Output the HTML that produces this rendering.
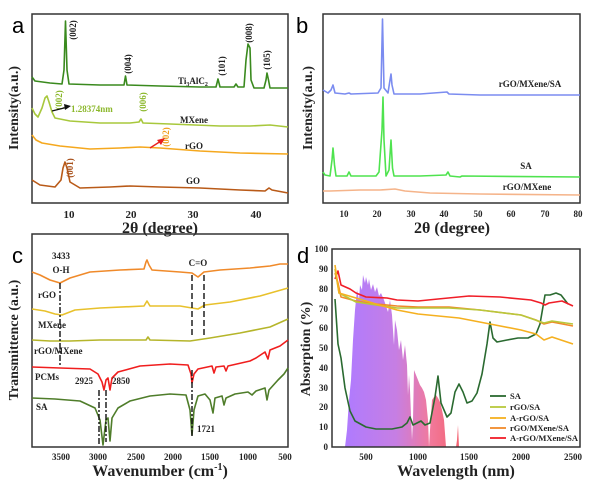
<!DOCTYPE html>
<html><head><meta charset="utf-8"><style>
html,body{margin:0;padding:0;background:#fff}
svg{display:block}
text{font-family:"Liberation Serif",serif;font-weight:bold;fill:#222}
.t{font-size:11px}
.s{font-size:9px}
.ttl{font-size:16px}
.yl{font-size:14px}
.L{font-family:"Liberation Sans",sans-serif;font-weight:normal;font-size:22px;fill:#000}
.fr{fill:none;stroke:#333;stroke-width:1.5}
polyline{fill:none;stroke-width:1.6;stroke-linejoin:round}
</style></head><body>
<svg width="600" height="489" viewBox="0 0 600 489" xmlns="http://www.w3.org/2000/svg">
<defs>
<linearGradient id="sg" x1="0" x2="1" y1="0" y2="0">
<stop offset="0" stop-color="#a66cff"/><stop offset="0.45" stop-color="#c070e0"/><stop offset="0.75" stop-color="#f06a90"/><stop offset="1" stop-color="#f25060"/>
</linearGradient>
</defs>

<!-- Panel a -->
<text class="L" x="12" y="33">a</text>
<rect class="fr" x="32" y="14" width="256" height="189"/>
<polyline stroke="#3a8a1e" points="32,77 35,81 50,83 62,84 64,70 65.5,21 67,70 69,84 100,85 124,85 125.5,76 127,85 160,86 200,87 216,87 218,79 220,87 234,87 236,84 238,87 244,87 246,60 248,44 250,48 251,80 254,88 264,88 266,80 267,73 268.5,80 270,88 288,88"/>
<polyline stroke="#a8c83c" points="32,108 35,114 38,117 42,108 45,98 47,96 49,102 52,112 55,118 70,121 100,123 130,123 139,122 141,119 143,123 170,124 220,126 250,126 270,125 288,127"/>
<polyline stroke="#f5a81e" points="32,135 36,140 42,143 60,146 90,149 120,148 140,147 160,148 200,151 240,153 288,154"/>
<polyline stroke="#b95a18" points="32,180 40,185 55,187 61,180 63,168 65,162 67,168 70,182 80,188 110,187 130,186 160,187 200,188 240,190 265,191 269,188 272,190 288,193"/>
<g class="s" text-anchor="middle">
<text transform="translate(76,30) rotate(-90)">(002)</text>
<text transform="translate(131,64) rotate(-90)">(004)</text>
<text transform="translate(225,66) rotate(-90)">(101)</text>
<text transform="translate(252,33) rotate(-90)">(008)</text>
<text transform="translate(270,60) rotate(-90)">(105)</text>
<text transform="translate(62,100) rotate(-90)" style="fill:#8cb82c">(002)</text>
<text transform="translate(146,102) rotate(-90)" style="fill:#8cb82c">(006)</text>
<text transform="translate(169,137) rotate(-90)" style="fill:#f0a020">(002)</text>
<text transform="translate(73,168) rotate(-90)" style="fill:#a8501a">(001)</text>
</g>
<text class="s" x="178" y="84">Ti<tspan font-size="6" dy="2">3</tspan><tspan dy="-2">AlC</tspan><tspan font-size="6" dy="2">2</tspan></text>
<line x1="52" y1="111" x2="68" y2="107" stroke="#111" stroke-width="1.4"/>
<polygon points="71,106 64,104 65,110" fill="#111"/>
<text class="s" x="71" y="112" style="fill:#8cb82c">1.28374nm</text>
<text class="s" x="180" y="123">MXene</text>
<line x1="150" y1="148" x2="161" y2="141" stroke="#e82020" stroke-width="1.4"/>
<polygon points="165,138 157,140 161,145" fill="#e82020"/>
<text class="s" x="185" y="149">rGO</text>
<text class="s" x="186" y="184">GO</text>
<g class="t" text-anchor="middle"><text x="69" y="218">10</text><text x="131" y="218">20</text><text x="193" y="218">30</text><text x="256" y="218">40</text></g>
<text class="ttl" x="160" y="233" text-anchor="middle">2θ (degree)</text>
<text class="yl" transform="translate(18,108) rotate(-90)" text-anchor="middle">Intensity(a.u.)</text>

<!-- Panel b -->
<text class="L" x="296" y="33">b</text>
<rect class="fr" x="323" y="14" width="257" height="189"/>
<polyline stroke="#7b8cf0" points="323,90 328,93 331,90 333,85 335,93 345,94 349,93 351,94 378,93 381,88 382.5,19 384,88 388,93 390,80 391,74 392,85 394,94 420,94 447,92 449,94 480,95 580,95"/>
<polyline stroke="#4fe34f" points="323,172 325,175 330,176 332,160 333,148 334.5,165 336,176 347,176 349,172 351,176 376,176 379,172 382,130 383,97 384,140 386,176 389,170 391,140 392.5,168 394,176 420,176 446,175 448,172 450,176 460,177 462,176 580,177"/>
<polyline stroke="#f5b48a" points="323,191 330,191 360,190 380,190 395,189 405,191 430,193 480,194 580,195"/>
<text class="s" x="530" y="87" text-anchor="middle">rGO/MXene/SA</text>
<text class="s" x="526" y="169" text-anchor="middle">SA</text>
<text class="s" x="527" y="190" text-anchor="middle">rGO/MXene</text>
<g class="s" text-anchor="middle"><text x="344" y="217">10</text><text x="377" y="217">20</text><text x="411" y="217">30</text><text x="444" y="217">40</text><text x="478" y="217">50</text><text x="511" y="217">60</text><text x="545" y="217">70</text><text x="578" y="217">80</text></g>
<text class="ttl" x="452" y="233" text-anchor="middle">2θ (degree)</text>
<text class="yl" transform="translate(312,108) rotate(-90)" text-anchor="middle">Intensity(a.u.)</text>

<!-- Panel c -->
<text class="L" x="12" y="263">c</text>
<rect class="fr" x="32" y="234" width="256" height="213"/>
<polyline stroke="#f08a2a" points="32,272 40,275 50,280 60,283 70,278 90,272 120,270 144,269 146,262 147,260 149,265 152,270 180,272 192,273 198,277 204,272 220,270 250,268 270,266 280,264 288,264"/>
<polyline stroke="#e8c12c" points="32,309 45,311 55,314 62,315 75,310 100,308 144,306 147,301 150,306 180,306 198,309 205,305 230,302 260,296 288,288"/>
<polyline stroke="#b5b52a" points="32,340 50,341 70,341 100,340 146,340 148,337 150,340 190,341 210,338 240,333 270,327 288,319"/>
<polyline stroke="#f01e1e" points="32,367 60,368 90,369 98,374 102,382 104,390 106,380 108,378 110,390 112,378 118,372 140,366 170,364 188,365 191,374 192,383 194,374 198,369 212,366 214,373 216,367 224,366 226,371 228,366 250,361 256,358 265,352 268,359 270,350 280,346 288,340"/>
<polyline stroke="#4f7d2a" points="32,398 55,399 80,401 95,408 100,420 103,445 106,420 108,418 110,441 112,418 118,408 130,401 150,396 170,394 186,395 190,410 192,435 194,410 198,396 205,394 210,400 213,413 215,398 222,396 224,405 226,398 235,394 248,392 252,395 256,391 265,388 267,400 269,390 278,380 284,374 288,368"/>
<g stroke="#111" stroke-width="1.4" fill="none">
<line x1="60" y1="283" x2="60" y2="366" stroke-dasharray="6,2,2,2"/>
<line x1="192" y1="275" x2="192" y2="338" stroke-dasharray="6,3"/>
<line x1="204" y1="275" x2="204" y2="338" stroke-dasharray="6,3"/>
<line x1="99" y1="390" x2="99" y2="445" stroke-dasharray="6,2,2,2"/>
<line x1="106" y1="390" x2="106" y2="442" stroke-dasharray="6,2,2,2"/>
<line x1="192" y1="370" x2="192" y2="436" stroke-dasharray="6,2,2,2"/>
</g>
<g class="s">
<text x="61" y="259" text-anchor="middle">3433</text>
<text x="61" y="273" text-anchor="middle">O-H</text>
<text x="198" y="266" text-anchor="middle">C=O</text>
<text x="38" y="298">rGO</text>
<text x="38" y="328">MXene</text>
<text x="34" y="354">rGO/MXene</text>
<text x="35" y="380">PCMs</text>
<text x="75" y="384">2925</text>
<text x="112" y="384">2850</text>
<text x="36" y="410">SA</text>
<text x="197" y="432">1721</text>
</g>
<g class="s" text-anchor="middle"><text x="61" y="460">3500</text><text x="98" y="460">3000</text><text x="136" y="460">2500</text><text x="173" y="460">2000</text><text x="210" y="460">1500</text><text x="248" y="460">1000</text><text x="285" y="460">500</text></g>
<text class="ttl" x="160" y="476" text-anchor="middle">Wavenumber (cm<tspan font-size="10" dy="-6">-1</tspan><tspan dy="6">)</tspan></text>
<text class="yl" transform="translate(18,340) rotate(-90)" text-anchor="middle">Transmittence (a.u.)</text>

<!-- Panel d -->
<text class="L" x="297" y="263">d</text>
<polygon fill="url(#sg)" opacity="0.9" points="345,447 347,430 349,400 351,380 353,340 355,310 357,290 359,300 360,285 362,290 363,275 365,283 366,277 368,285 369,279 371,290 373,284 375,292 377,287 379,296 381,293 384,300 386,306 388,312 390,300 392,315 394,345 395,320 397,330 399,350 401,340 403,360 405,345 407,365 408,395 409,375 410,390 412,440 413,420 414,370 416,375 418,380 420,385 422,388 424,392 426,400 428,420 429,447 430,430 432,400 434,397 436,395 438,398 440,402 442,410 444,420 446,447 456,447 457,440 458,425 459,447"/>
<rect class="fr" x="332" y="249" width="248" height="198"/>
<polyline stroke="#2a6a30" points="335,299 338,344 341,358 345,388 350,411 355,421 366,427 376,429 392,429 402,427 407,423 410,417 413,425 417,423 421,421 425,425 430,423 435,397 438,376 441,403 447,417 451,413 455,392 459,384 463,392 467,403 472,401 477,393 482,374 487,344 490,322 493,338 497,342 507,340 518,338 528,338 536,334 540,324 545,295 550,295 556,293 561,295 568,304"/>
<polyline stroke="#f01e28" points="335,279 338,271 341,285 350,289 356,293 366,297 387,298 397,300 418,301 438,299 469,296 500,297 531,300 541,303 545,305 549,303 562,301 573,306"/>
<polyline stroke="#f08a2a" points="335,273 338,283 341,297 356,301 376,304 397,306 418,307 449,307 480,310 521,315 536,320 544,324 552,322 573,326"/>
<polyline stroke="#b8c83c" points="335,269 339,293 356,302 376,305 397,308 418,308 449,308 480,310 521,315 544,323 552,321 573,324"/>
<polyline stroke="#f5b020" points="335,265 339,293 356,298 376,304 397,310 418,314 459,318 490,324 521,330 536,334 544,340 552,337 573,344"/>
<g stroke-width="1.8">
<line x1="490" y1="396" x2="506" y2="396" stroke="#2a6a30"/>
<line x1="490" y1="407" x2="506" y2="407" stroke="#b8c83c"/>
<line x1="490" y1="418" x2="506" y2="418" stroke="#f5b020"/>
<line x1="490" y1="428" x2="506" y2="428" stroke="#f08a2a"/>
<line x1="490" y1="438" x2="506" y2="438" stroke="#f01e28"/>
</g>
<g class="s" style="font-size:8.5px">
<text x="510" y="399">SA</text><text x="510" y="410">rGO/SA</text><text x="510" y="421">A-rGO/SA</text><text x="510" y="431">rGO/MXene/SA</text><text x="510" y="441">A-rGO/MXene/SA</text>
</g>
<g class="s" text-anchor="end">
<text x="328" y="252">100</text><text x="328" y="272">90</text><text x="328" y="292">80</text><text x="328" y="312">70</text><text x="328" y="331">60</text><text x="328" y="351">50</text><text x="328" y="371">40</text><text x="328" y="391">30</text><text x="328" y="410">20</text><text x="328" y="430">10</text><text x="328" y="450">0</text>
</g>
<g class="s" text-anchor="middle"><text x="366" y="460">500</text><text x="418" y="460">1000</text><text x="469" y="460">1500</text><text x="521" y="460">2000</text><text x="573" y="460">2500</text></g>
<text class="ttl" x="456" y="476" text-anchor="middle">Wavelength (nm)</text>
<text class="yl" transform="translate(310,349) rotate(-90)" text-anchor="middle">Absorption (%)</text>
</svg>
</body></html>
